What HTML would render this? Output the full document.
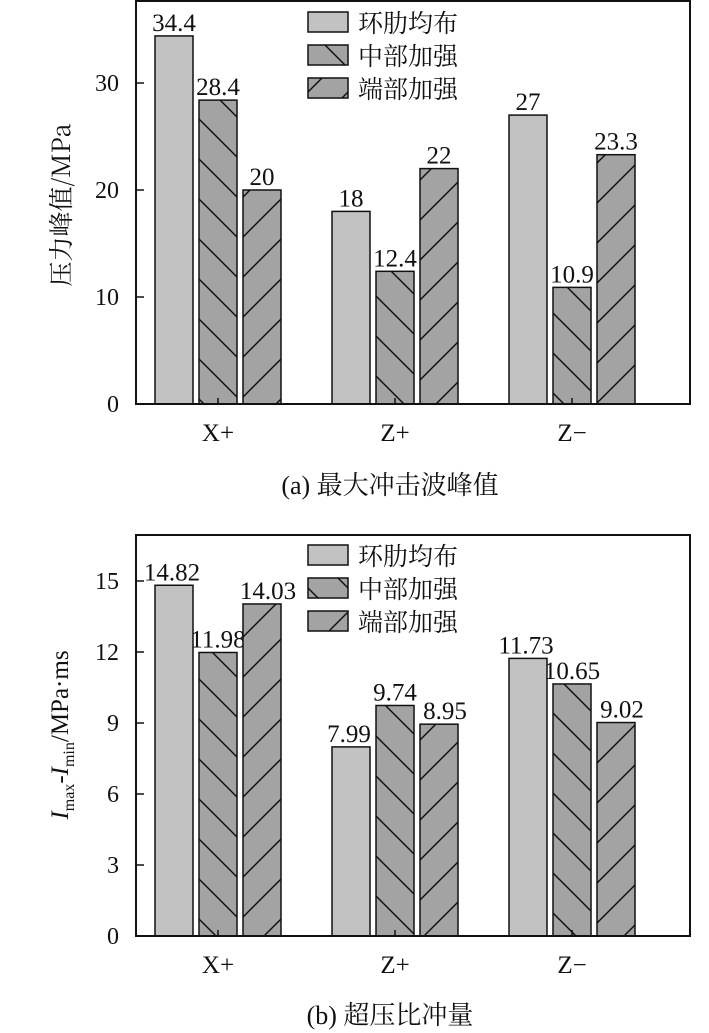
<!DOCTYPE html>
<html><head><meta charset="utf-8"><style>
body{margin:0;background:#fff}
svg{display:block;font-family:"Liberation Serif","Noto Serif CJK SC",serif}
text{fill:#111}
</style></head><body>
<svg id="s" width="709" height="1033" viewBox="0 0 709 1033" xmlns="http://www.w3.org/2000/svg">
<defs>
<pattern id="pb" patternUnits="userSpaceOnUse" width="40" height="40">
<rect width="40" height="40" fill="#a3a3a3"/><path d="M-10,-10 L50,50 M-10,30 L10,50 M30,-10 L50,10" stroke="#111" stroke-width="1.5"/></pattern>
<pattern id="pf" patternUnits="userSpaceOnUse" width="40" height="40">
<rect width="40" height="40" fill="#a3a3a3"/><path d="M-10,50 L50,-10 M-10,10 L10,-10 M30,50 L50,30" stroke="#111" stroke-width="1.5"/></pattern>
</defs>
<g id="g1"></g>
<g id="g2"></g>
</svg>
<script>
const categories=["X+","Z+","Z\u2212"];
const seriesNames=["环肋均布","中部加强","端部加强"];
const peakUniform=[34.4,18,27];
const peakMiddle=[28.4,12.4,10.9];
const peakEnd=[20,22,23.3];
const peakLabels=[["34.4","18","27"],["28.4","12.4","10.9"],["20","22","23.3"]];
const peakTicks=[0,10,20,30];
const impUniform=[14.82,7.99,11.73];
const impMiddle=[11.98,9.74,10.65];
const impEnd=[14.03,8.95,9.02];
const impLabels=[["14.82","7.99","11.73"],["11.98","9.74","10.65"],["14.03","8.95","9.02"]];
const impTicks=[0,3,6,9,12,15];
const NS="http://www.w3.org/2000/svg";
function mk(p,t,a,txt){const e=document.createElementNS(NS,t);for(const k in a)e.setAttribute(k,a[k]);if(txt!==undefined)e.textContent=txt;p.appendChild(e);return e;}
const fills=["#c2c2c2","url(#pb)","url(#pf)"];
function chart(g,o){
  const L=136,R=690,T=o.top,B=o.bottom;
  const y=v=>B-(v/o.max)*(B-T);
  const cx=i=>218+i*177;
  const series=o.series;
  series.forEach((s,si)=>{
    s.forEach((v,i)=>{
      const x=cx(i)-63+si*44;
      const r=mk(g,'rect',{x:x,y:y(v),width:38,height:B-y(v),fill:fills[si],stroke:'#111','stroke-width':1.5});
      
      
      const t=mk(g,'text',{x:x+19+(o.lx?o.lx[si]:0),y:y(v)-5,'font-size':25,'text-anchor':'middle'},o.labels[si][i]);
      
      
    });
  });
  const f=mk(g,'rect',{x:L,y:T,width:R-L,height:B-T,fill:'none',stroke:'#111','stroke-width':2});
  
  
  o.ticks.forEach(v=>{
    mk(g,'line',{x1:L,x2:L+8,y1:y(v),y2:y(v),stroke:'#111','stroke-width':1.5});
    const t=mk(g,'text',{x:L-17,y:y(v)+8,'font-size':24,'text-anchor':'end'},String(v));
    
    
  });
  categories.forEach((c,i)=>{
    mk(g,'line',{x1:cx(i),x2:cx(i),y1:B,y2:B-6,stroke:'#111','stroke-width':1.5});
    const t=mk(g,'text',{x:cx(i),y:B+37,'font-size':25,'text-anchor':'middle'},c);
    
    
  });
  seriesNames.forEach((n,k)=>{
    const yy=o.legY+k*33;
    const r=mk(g,'rect',{x:308,y:yy,width:40,height:20,fill:fills[k],stroke:'#111','stroke-width':1.5});
    
    
    const t=mk(g,'text',{x:358,y:yy+20,'font-size':25,'font-family':'"Noto Serif CJK SC",serif'},n);
    
    
  });
  const c=mk(g,'text',{x:390,y:o.capY,'font-size':26,'text-anchor':'middle'},o.caption);
  
  
}
const g1=document.getElementById('g1'),g2=document.getElementById('g2');
chart(g1,{top:1,bottom:404,max:(404-1)/10.7,series:[peakUniform,peakMiddle,peakEnd],labels:peakLabels,ticks:peakTicks,legY:12,capY:494,caption:"(a) 最大冲击波峰值"});
chart(g2,{top:535,bottom:936,max:(936-535)/(71/3),series:[impUniform,impMiddle,impEnd],labels:impLabels,ticks:impTicks,legY:545,capY:1024,caption:"(b) 超压比冲量",lx:[-2,0,6]});
const a=mk(g1,'text',{x:0,y:0,'font-size':25,'text-anchor':'middle',transform:'translate(70,205) rotate(-90)','font-family':'"Noto Serif CJK SC","Liberation Serif",serif'},"压力峰值/MPa");


const b=mk(g2,'text',{x:0,y:0,'font-size':25,'text-anchor':'middle',transform:'translate(68,735) rotate(-90)'});


b.innerHTML='<tspan font-style="italic">I</tspan><tspan font-size="16" dy="6">max</tspan><tspan dy="-6">-</tspan><tspan font-style="italic">I</tspan><tspan font-size="16" dy="6">min</tspan><tspan dy="-6">/MPa·ms</tspan>';
</script>
</body></html>
